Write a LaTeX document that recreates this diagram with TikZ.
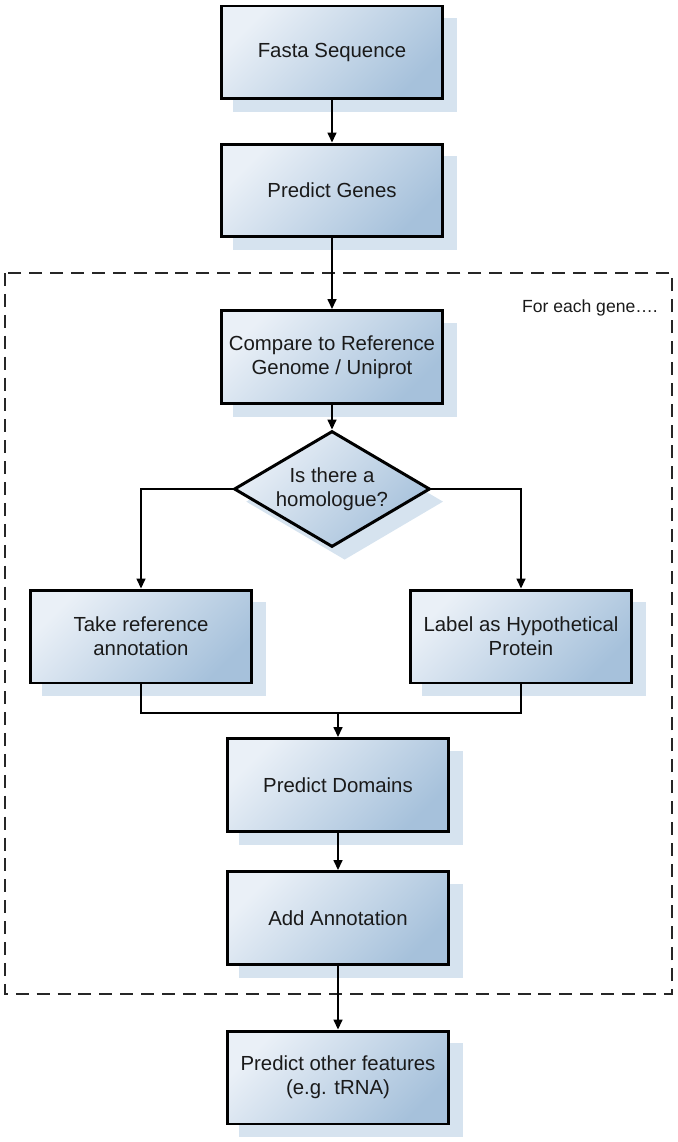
\documentclass[tikz,border=0pt]{standalone}
\usepackage{fontspec}
\setmainfont{Liberation Sans}
\usetikzlibrary{shapes.geometric,shadows,arrows.meta}
\definecolor{boxlight}{RGB}{234,240,247}
\definecolor{boxdark}{RGB}{166,193,219}
\definecolor{shadowblue}{RGB}{214,227,239}
\definecolor{inktext}{RGB}{26,26,26}
\begin{document}
\begin{tikzpicture}[x=0.02cm,y=-0.02cm,
    font=\fontsize{11.6}{13.7}\selectfont,
    >={Triangle[length=0.2cm,width=0.18cm]},
    boxshadow/.style={drop shadow={shadow xshift=0.25cm,shadow yshift=-0.25cm,
      shadow scale=1.01,fill=shadowblue,opacity=1}},
    boxfill/.style={draw=black,line width=1.7pt,text=inktext,
      top color=boxlight,bottom color=boxdark,shading angle=45,boxshadow},
    stepbox/.style={rectangle,boxfill,minimum width=4.44cm,minimum height=1.86cm,
      align=center},
    askbox/.style={diamond,boxfill,aspect=1.69,inner sep=0pt,
      minimum width=3.92cm,minimum height=2.32cm,align=center},
    loopframe/.style={draw=black!85,line width=1.1pt,dash pattern=on 7.4pt off 4.5pt}]
  \useasboundingbox (0,0) rectangle (677,1142);
  \draw[loopframe] (5,273) rectangle (672,994);
  \node[anchor=east,font=\fontsize{10}{12}\selectfont,text=inktext] (foreach)
    at (664,308) {For each gene….};
  \draw
    (332,52.5) node[stepbox] (fasta) {Fasta Sequence}
    (332,190.5) node[stepbox] (genes) {Predict Genes}
    (332,357) node[stepbox] (compare) {Compare to Reference\\Genome / Uniprot}
    (332,489) node[askbox] (homol) {Is there a\\homologue?}
    (141,636.5) node[stepbox] (takeref) {Take reference\\annotation}
    (521,636.5) node[stepbox] (hypo) {Label as Hypothetical\\Protein}
    (338,785) node[stepbox] (domains) {Predict Domains}
    (338,918) node[stepbox] (addann) {Add Annotation}
    (338,1077.5) node[stepbox] (other) {Predict other features\\(e.g. tRNA)};
  \coordinate (join) at (338,713);
  \begin{scope}[->,line width=0.9pt]
    \draw (fasta) to (genes);
    \draw (genes) to (compare);
    \draw (compare) to (homol);
    \draw (homol.west) -| (takeref.north);
    \draw (homol.east) -| (hypo.north);
    \draw[-] (takeref.south) |- (join) -| (hypo.south);
    \draw (join) to (domains);
    \draw (domains) to (addann);
    \draw (addann) to (other);
  \end{scope}
\end{tikzpicture}
\end{document}
